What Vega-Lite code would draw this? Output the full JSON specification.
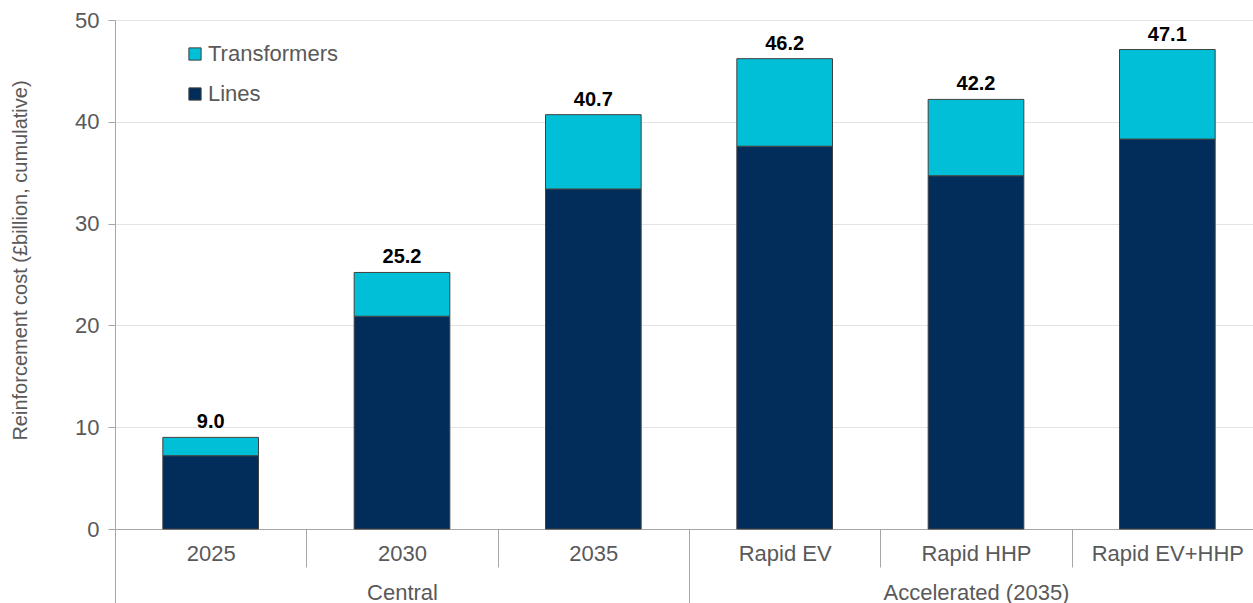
{
  "$schema": "https://vega.github.io/schema/vega-lite/v6.json",
  "background": "white",
  "padding": {"left": 10, "top": 9, "right": 0, "bottom": 0},
  "width": 1148,
  "height": 509,
  "config": {
    "view": {"stroke": null},
    "font": "Liberation Sans",
    "axis": {"labelFont": "Liberation Sans", "titleFont": "Liberation Sans"}
  },
  "data": {"values": [
    {"group": "Central", "category": "2025", "component": "Lines", "value": 7.2},
    {"group": "Central", "category": "2025", "component": "Transformers", "value": 1.8},
    {"group": "Central", "category": "2030", "component": "Lines", "value": 20.9},
    {"group": "Central", "category": "2030", "component": "Transformers", "value": 4.3},
    {"group": "Central", "category": "2035", "component": "Lines", "value": 33.4},
    {"group": "Central", "category": "2035", "component": "Transformers", "value": 7.3},
    {"group": "Accelerated (2035)", "category": "Rapid EV", "component": "Lines", "value": 37.6},
    {"group": "Accelerated (2035)", "category": "Rapid EV", "component": "Transformers", "value": 8.6},
    {"group": "Accelerated (2035)", "category": "Rapid HHP", "component": "Lines", "value": 34.7},
    {"group": "Accelerated (2035)", "category": "Rapid HHP", "component": "Transformers", "value": 7.5},
    {"group": "Accelerated (2035)", "category": "Rapid EV+HHP", "component": "Lines", "value": 38.3},
    {"group": "Accelerated (2035)", "category": "Rapid EV+HHP", "component": "Transformers", "value": 8.8}
  ]},
  "resolve": {"scale": {"x": "independent"}, "axis": {"x": "independent"}},
  "layer": [
    {
      "layer": [
        {
          "mark": {"type": "bar", "stroke": "#404040", "strokeWidth": 1, "width": {"band": 0.5}},
          "encoding": {
            "x": {
              "field": "category", "type": "nominal", "sort": null,
              "scale": {"paddingInner": 0, "paddingOuter": 0},
              "axis": {
                "orient": "bottom",
                "title": null, "labelAngle": 0, "labelFontSize": 22, "labelColor": "#595959",
                "tickBand": "extent", "tickSize": 38, "tickColor": "#a6a6a6",
                "domainColor": "#a6a6a6", "labelPadding": -24, "labelLimit": 0
              }
            },
            "y": {
              "field": "value", "type": "quantitative", "aggregate": "sum",
              "scale": {"domain": [0, 50]},
              "axis": {
                "title": "Reinforcement cost (£billion, cumulative)",
                "titleFontSize": 20, "titleFontWeight": "normal", "titleColor": "#595959",
                "titlePadding": 44, "titleY": 240,
                "values": [0, 10, 20, 30, 40, 50],
                "labelFontSize": 22, "labelColor": "#595959", "labelPadding": 9,
                "tickColor": "#a6a6a6", "tickSize": 7,
                "domainColor": "#a6a6a6", "gridColor": "#e3e3e3"
              }
            },
            "color": {
              "field": "component", "type": "nominal",
              "scale": {"domain": ["Transformers", "Lines"], "range": ["#00BFD6", "#022D5B"]},
              "legend": {
                "title": null, "orient": "none", "legendX": 69, "legendY": 23,
                "symbolType": "square", "symbolSize": 150, "symbolStrokeColor": "#404040",
                "symbolStrokeWidth": 1, "labelFontSize": 22, "labelColor": "#595959",
                "labelFont": "Liberation Sans", "rowPadding": 18, "labelOffset": 2
              }
            },
            "order": {"field": "component", "sort": "ascending"}
          }
        },
        {
          "mark": {"type": "text", "baseline": "alphabetic", "dy": -9, "fontSize": 20, "fontWeight": "bold", "color": "black"},
          "encoding": {
            "x": {"field": "category", "type": "nominal", "sort": null},
            "y": {"field": "value", "type": "quantitative", "aggregate": "sum"},
            "text": {"field": "value", "type": "quantitative", "aggregate": "sum", "format": ".1f"}
          }
        }
      ]
    },
    {
      "mark": {"type": "tick", "opacity": 0},
      "encoding": {
        "x": {
          "field": "group", "type": "nominal", "sort": ["Central", "Accelerated (2035)"],
          "scale": {"paddingInner": 0, "paddingOuter": 0},
          "axis": {
            "orient": "bottom", "title": null, "labelAngle": 0, "labelFontSize": 22,
            "labelColor": "#595959", "tickBand": "extent", "tickSize": 74,
            "tickColor": "#a6a6a6", "domain": false, "labelPadding": -21, "labelLimit": 0
          }
        },
        "y": {"field": "value", "type": "quantitative", "aggregate": "min"}
      }
    }
  ]
}
